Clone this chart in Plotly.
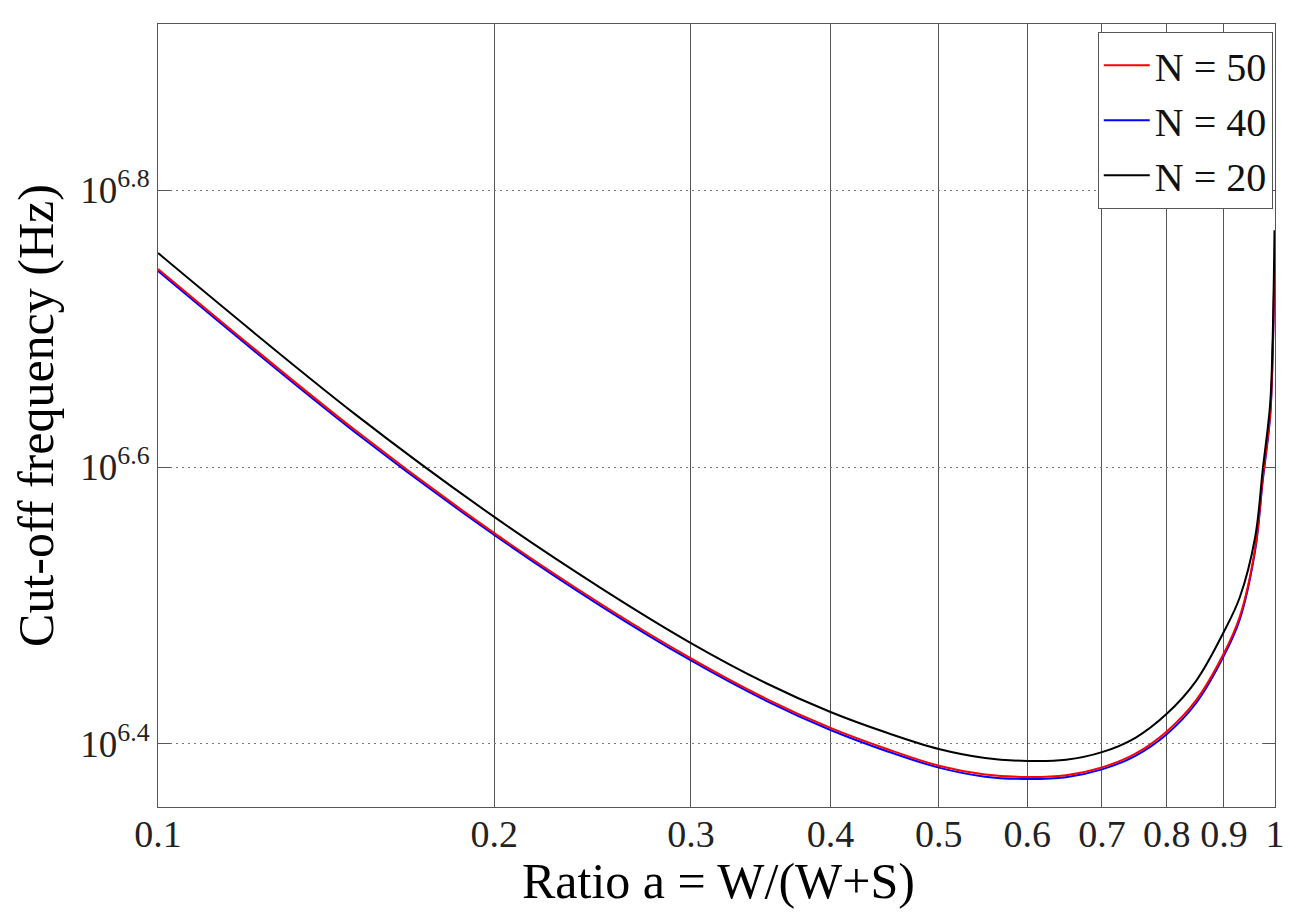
import plotly.graph_objects as go

# Ratio a = W/(W+S)
ratio = [0.1, 0.15, 0.2, 0.25, 0.3, 0.35, 0.4, 0.45, 0.5, 0.55, 0.6, 0.65,
         0.7, 0.75, 0.8, 0.85, 0.9, 0.93, 0.96, 0.975, 0.99, 0.995, 0.999]

# Cut-off frequency (Hz)
f_n50 = [5.534e6, 4.235e6, 3.567e6, 3.165e6, 2.896e6, 2.709e6, 2.580e6, 2.490e6,
         2.423e6, 2.388e6, 2.378e6, 2.385e6, 2.416e6, 2.472e6, 2.565e6, 2.702e6,
         2.921e6, 3.105e6, 3.479e6, 3.908e6, 4.345e6, 4.786e6, 5.623e6]
f_n40 = [5.515e6, 4.220e6, 3.556e6, 3.154e6, 2.886e6, 2.700e6, 2.571e6, 2.481e6,
         2.415e6, 2.379e6, 2.370e6, 2.377e6, 2.408e6, 2.463e6, 2.553e6, 2.689e6,
         2.908e6, 3.090e6, 3.467e6, 3.890e6, 4.325e6, 4.764e6, 5.598e6]
f_n20 = [5.682e6, 4.349e6, 3.664e6, 3.250e6, 2.971e6, 2.780e6, 2.649e6, 2.558e6,
         2.491e6, 2.454e6, 2.442e6, 2.447e6, 2.478e6, 2.538e6, 2.641e6, 2.790e6,
         3.027e6, 3.206e6, 3.544e6, 3.963e6, 4.416e6, 4.898e6, 5.902e6]

x_tickvals = [0.1, 0.2, 0.3, 0.4, 0.5, 0.6, 0.7, 0.8, 0.9, 1.0]
x_ticktext = ["0.1", "0.2", "0.3", "0.4", "0.5", "0.6", "0.7", "0.8", "0.9", "1"]
y_tickvals = [10**6.4, 10**6.6, 10**6.8]
y_ticktext = ["10<sup>6.4</sup>", "10<sup>6.6</sup>", "10<sup>6.8</sup>"]

FONT = "Liberation Serif, Times New Roman, serif"
LINE = dict(width=2, shape="spline", smoothing=1.0)

fig = go.Figure()
fig.add_trace(go.Scatter(x=ratio, y=f_n40, mode="lines", name="N = 40",
                         line=dict(color="#0000ff", **LINE), legendrank=2))
fig.add_trace(go.Scatter(x=ratio, y=f_n50, mode="lines", name="N = 50",
                         line=dict(color="#ff0000", **LINE), legendrank=1))
fig.add_trace(go.Scatter(x=ratio, y=f_n20, mode="lines", name="N = 20",
                         line=dict(color="#000000", **LINE), legendrank=3))

fig.update_layout(
    width=1296, height=913,
    margin=dict(l=150, r=29, t=16, b=114),
    paper_bgcolor="white", plot_bgcolor="white",
    font=dict(family=FONT, size=38, color="#222222"),
    showlegend=True,
    legend=dict(x=0.998, y=0.99, xanchor="right", yanchor="top",
                bgcolor="white", bordercolor="#555555", borderwidth=1,
                font=dict(family=FONT, size=40, color="#111111"),
                tracegroupgap=0, itemwidth=46),
    annotations=[dict(text="Ratio a = W/(W+S)", xref="paper", yref="paper",
                      x=0.5018, y=-0.094, xanchor="center", yanchor="middle",
                      showarrow=False,
                      font=dict(family=FONT, size=50, color="#000000"))],
)
fig.update_xaxes(
    type="log", range=[-1, 0],
    tickvals=x_tickvals, ticktext=x_ticktext,
    ticks="inside", ticklen=12, tickcolor="#555555", mirror="ticks",
    showline=True, linecolor="#555555", linewidth=1,
    showgrid=True, gridcolor="#555555", gridwidth=1, griddash="solid",
    zeroline=False, ticklabelstandoff=-7,
    tickfont=dict(family=FONT, size=38, color="#222222"),
)
fig.update_yaxes(
    type="log", range=[6.3545, 6.9199],
    tickvals=y_tickvals, ticktext=y_ticktext,
    ticks="inside", ticklen=12, tickcolor="#555555", mirror="ticks",
    showline=True, linecolor="#555555", linewidth=1,
    showgrid=True, gridcolor="#777777", gridwidth=1, griddash="2px,4px",
    zeroline=False,
    tickfont=dict(family=FONT, size=37, color="#222222"),
    title=dict(text="Cut-off frequency (Hz)", font=dict(family=FONT, size=50, color="#000000"), standoff=12),
)

fig.write_html("out.html")
